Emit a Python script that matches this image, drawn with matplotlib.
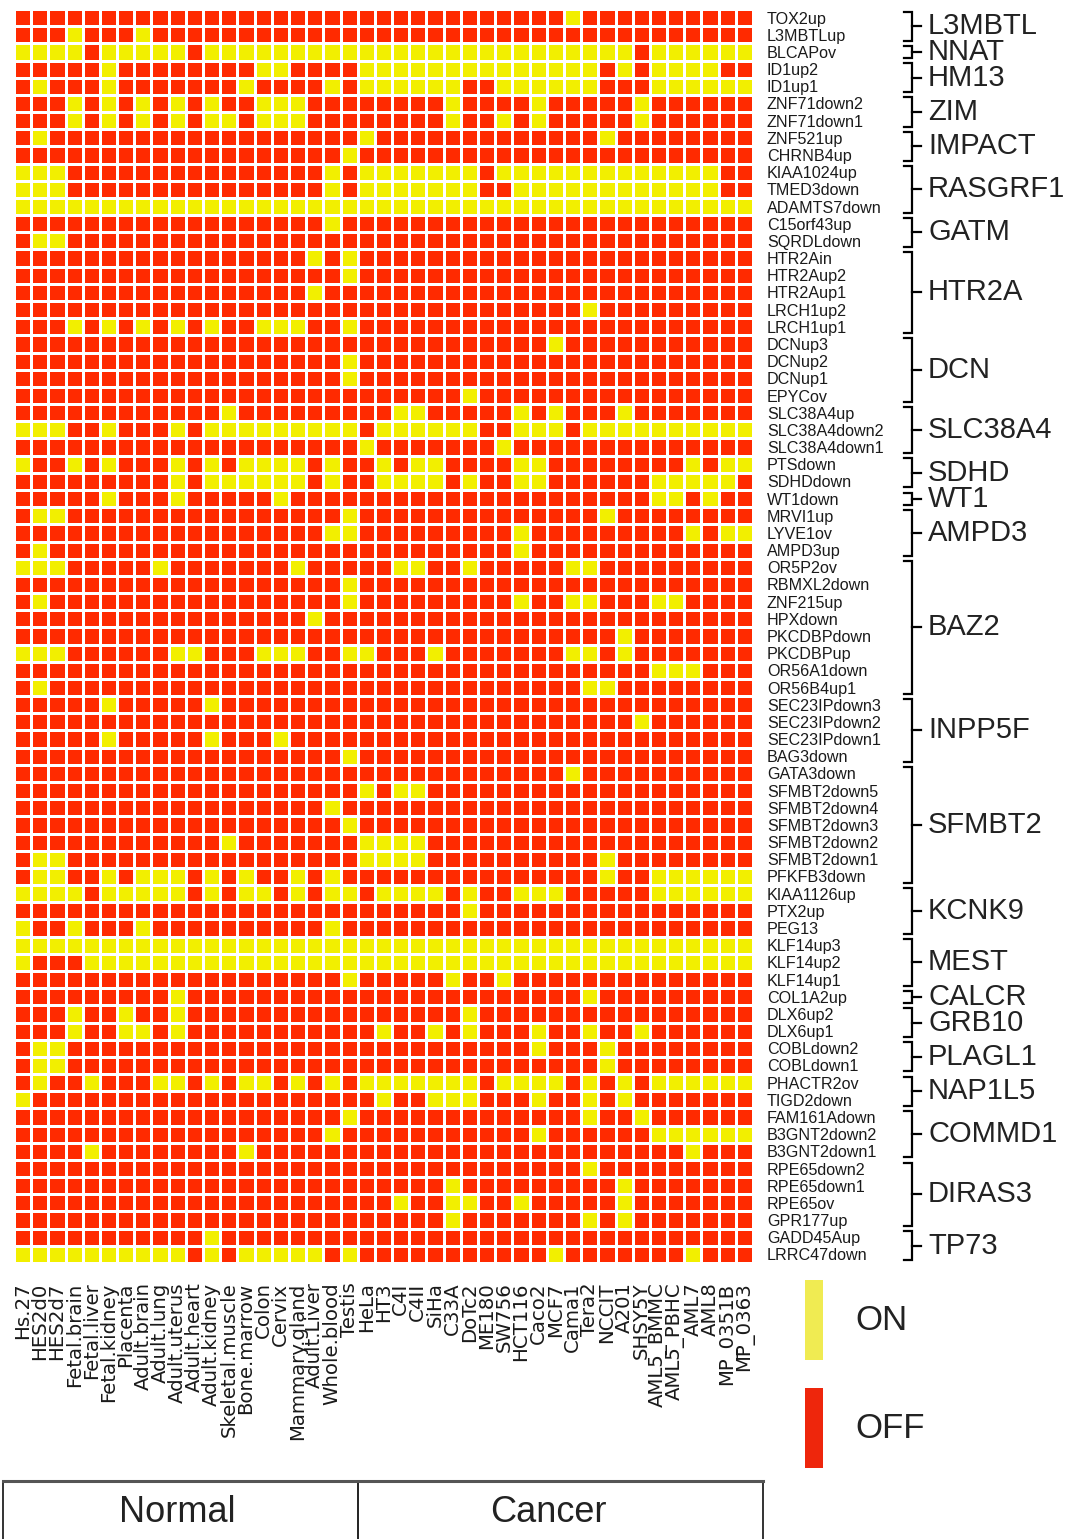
import numpy as np
import matplotlib
matplotlib.use("Agg")
import matplotlib.pyplot as plt
from matplotlib.colors import ListedColormap

# ---------------------------------------------------------------- data
samples_normal = ["Hs.27", "HES2d0", "HES2d7", "Fetal.brain", "Fetal.liver",
                  "Fetal.kidney", "Placenta", "Adult.brain", "Adult.lung",
                  "Adult.uterus", "Adult.heart", "Adult.kidney", "Skeletal.muscle",
                  "Bone.marrow", "Colon", "Cervix", "Mammary.gland", "Adult.Liver",
                  "Whole.blood", "Testis"]
samples_cancer = ["HeLa", "HT3", "C4I", "C4II", "SiHa", "C33A", "DoTc2", "ME180",
                  "SW756", "HCT116", "Caco2", "MCF7", "Cama1", "Tera2", "NCCIT",
                  "A201", "SHSY5Y", "AML5_BMMC", "AML5_PBHC", "AML7", "AML8",
                  "MP_0351B", "MP_0363"]

loci = ["TOX2up", "L3MBTLup", "BLCAPov", "ID1up2", "ID1up1", "ZNF71down2",
        "ZNF71down1", "ZNF521up", "CHRNB4up", "KIAA1024up", "TMED3down",
        "ADAMTS7down", "C15orf43up", "SQRDLdown", "HTR2Ain", "HTR2Aup2",
        "HTR2Aup1", "LRCH1up2", "LRCH1up1", "DCNup3", "DCNup2", "DCNup1",
        "EPYCov", "SLC38A4up", "SLC38A4down2", "SLC38A4down1", "PTSdown",
        "SDHDdown", "WT1down", "MRVI1up", "LYVE1ov", "AMPD3up", "OR5P2ov",
        "RBMXL2down", "ZNF215up", "HPXdown", "PKCDBPdown", "PKCDBPup",
        "OR56A1down", "OR56B4up1", "SEC23IPdown3", "SEC23IPdown2",
        "SEC23IPdown1", "BAG3down", "GATA3down", "SFMBT2down5", "SFMBT2down4",
        "SFMBT2down3", "SFMBT2down2", "SFMBT2down1", "PFKFB3down",
        "KIAA1126up", "PTX2up", "PEG13", "KLF14up3", "KLF14up2", "KLF14up1",
        "COL1A2up", "DLX6up2", "DLX6up1", "COBLdown2", "COBLdown1",
        "PHACTR2ov", "TIGD2down", "FAM161Adown", "B3GNT2down2", "B3GNT2down1",
        "RPE65down2", "RPE65down1", "RPE65ov", "GPR177up", "GADD45Aup",
        "LRRC47down"]

# sample indices (normal first, then cancer) in which each locus is ON
on_samples = [
    [32],
    [3, 7],
    [0, 1, 2, 3, 5, 6, 7, 8, 9, 11, 12, 13, 14, 15, 16, 17, 18, 19, 20, 21, 22,
     23, 24, 25, 26, 27, 28, 29, 30, 31, 32, 33, 34, 35, 37, 38, 39, 40, 41, 42],
    [5, 14, 15, 20, 21, 22, 23, 24, 25, 26, 27, 28, 29, 30, 31, 32, 33, 35, 37,
     38, 39, 40],
    [1, 5, 13, 18, 20, 21, 22, 23, 24, 25, 28, 29, 30, 31, 32, 33, 37, 38, 39,
     40, 41, 42],
    [3, 5, 7, 9, 11, 14, 15, 16, 25, 30, 36],
    [3, 5, 7, 9, 11, 12, 14, 15, 16, 25, 28, 30, 36],
    [1, 20, 34],
    [19],
    [0, 1, 2, 18, 20, 21, 22, 23, 24, 25, 26, 28, 29, 30, 31, 32, 33, 34, 35, 36,
     37, 38, 39, 40],
    [0, 1, 2, 18, 20, 21, 22, 23, 24, 25, 26, 29, 30, 31, 32, 33, 34, 35, 36, 37,
     38, 39, 40],
    [0, 1, 2, 3, 4, 5, 6, 7, 8, 9, 10, 11, 12, 13, 14, 15, 16, 17, 18, 19, 20,
     21, 22, 23, 24, 25, 26, 27, 28, 29, 30, 31, 32, 33, 34, 35, 36, 37, 38, 39,
     40, 41, 42],
    [18],
    [1, 2],
    [17, 19],
    [19],
    [17],
    [33],
    [3, 5, 7, 9, 11, 14, 15, 16, 19],
    [31],
    [19],
    [19],
    [26],
    [12, 22, 23, 29, 31, 35],
    [0, 1, 2, 5, 9, 11, 12, 13, 14, 15, 16, 17, 18, 19, 21, 22, 23, 24, 25, 26,
     29, 30, 31, 33, 34, 35, 36, 37, 38, 39, 40, 41, 42],
    [20, 28],
    [0, 3, 5, 9, 11, 13, 14, 15, 16, 18, 21, 23, 24, 29, 30, 39, 41, 42],
    [9, 11, 12, 13, 14, 15, 16, 18, 21, 22, 23, 24, 26, 29, 30, 37, 38, 39, 40,
     41],
    [5, 9, 15, 37, 38, 40],
    [1, 2, 19, 34],
    [18, 19, 29, 39, 41, 42],
    [1, 29],
    [0, 1, 2, 8, 16, 22, 23, 26, 32, 33],
    [19],
    [1, 19, 29, 32, 33, 37, 38],
    [17],
    [35],
    [0, 1, 2, 9, 10, 14, 15, 16, 19, 20, 24, 32, 33, 35],
    [37, 38, 39],
    [1, 33, 34],
    [5, 11],
    [36],
    [5, 11, 15],
    [19],
    [32],
    [20, 22, 23],
    [18],
    [19],
    [12, 20, 21, 22, 23],
    [1, 2, 20, 21, 22, 23, 34],
    [1, 2, 5, 7, 8, 9, 11, 13, 16, 18, 34, 37, 38, 39, 40, 41, 42],
    [0, 1, 2, 3, 5, 6, 7, 8, 9, 11, 13, 14, 16, 18, 19, 21, 22, 23, 24, 26, 29,
     30, 31, 37, 38, 39, 40, 41, 42],
    [26],
    [0, 3, 7, 18],
    [0, 1, 2, 3, 4, 5, 6, 7, 8, 9, 10, 11, 12, 13, 14, 15, 16, 17, 18, 19, 20,
     21, 22, 23, 24, 25, 26, 27, 28, 29, 30, 31, 32, 33, 34, 35, 36, 37, 38, 39,
     40, 41, 42],
    [0, 4, 5, 6, 7, 8, 9, 10, 11, 12, 13, 14, 15, 16, 17, 18, 19, 20, 21, 22,
     23, 24, 25, 26, 27, 28, 29, 30, 31, 32, 33, 34, 35, 36, 37, 38, 39, 40, 41,
     42],
    [19, 25, 28],
    [9, 33],
    [3, 6, 9, 26],
    [3, 6, 7, 9, 21, 24, 26, 30, 33, 36],
    [1, 2, 30, 34],
    [1, 2, 34],
    [1, 4, 8, 9, 11, 13, 14, 16, 18, 20, 21, 22, 23, 24, 25, 26, 28, 29, 30, 31,
     33, 35, 37, 38, 39, 40, 41, 42],
    [0, 21, 24, 25, 26, 30, 33, 35],
    [19, 33, 36],
    [18, 30, 37, 38, 39, 40, 41, 42],
    [4, 13, 39],
    [33],
    [25, 35],
    [22, 25, 26, 29, 35],
    [25, 33, 35],
    [11],
    [0, 1, 2, 3, 4, 5, 6, 7, 8, 9, 11, 13, 14, 15, 16, 17, 19, 31, 39],
]

# imprinted domains: (name, first locus, last locus)
domains = [("L3MBTL", "TOX2up", "L3MBTLup"),
           ("NNAT", "BLCAPov", "BLCAPov"),
           ("HM13", "ID1up2", "ID1up1"),
           ("ZIM", "ZNF71down2", "ZNF71down1"),
           ("IMPACT", "ZNF521up", "CHRNB4up"),
           ("RASGRF1", "KIAA1024up", "ADAMTS7down"),
           ("GATM", "C15orf43up", "SQRDLdown"),
           ("HTR2A", "HTR2Ain", "LRCH1up1"),
           ("DCN", "DCNup3", "EPYCov"),
           ("SLC38A4", "SLC38A4up", "SLC38A4down1"),
           ("SDHD", "PTSdown", "SDHDdown"),
           ("WT1", "WT1down", "WT1down"),
           ("AMPD3", "MRVI1up", "AMPD3up"),
           ("BAZ2", "OR5P2ov", "OR56B4up1"),
           ("INPP5F", "SEC23IPdown3", "BAG3down"),
           ("SFMBT2", "GATA3down", "PFKFB3down"),
           ("KCNK9", "KIAA1126up", "PEG13"),
           ("MEST", "KLF14up3", "KLF14up1"),
           ("CALCR", "COL1A2up", "COL1A2up"),
           ("GRB10", "DLX6up2", "DLX6up1"),
           ("PLAGL1", "COBLdown2", "COBLdown1"),
           ("NAP1L5", "PHACTR2ov", "TIGD2down"),
           ("COMMD1", "FAM161Adown", "B3GNT2down1"),
           ("DIRAS3", "RPE65down2", "GPR177up"),
           ("TP73", "GADD45Aup", "LRRC47down")]

state_labels = ["ON", "OFF"]

# ---------------------------------------------------------------- styling
OFF_CELL = "#FF2A00"
ON_CELL = "#F2EF00"
ON_KEY = "#F0EB52"
OFF_KEY = "#EE260C"
SANS = "Liberation Sans"
WIDE = "DejaVu Sans"
INK = "#1a1a1a"

W, H = 1071, 1539
fig = plt.figure(figsize=(W / 100, H / 100), dpi=100)


def px_box(x0, y0, x1, y1):
    return [x0 / W, 1 - y1 / H, (x1 - x0) / W, (y1 - y0) / H]


samples = samples_normal + samples_cancer
n_rows, n_cols = len(loci), len(samples)
status = np.zeros((n_rows, n_cols))
for r, cols in enumerate(on_samples):
    status[r, cols] = 1

# ---------------------------------------------------------------- heatmap
ax = fig.add_axes(px_box(14, 9, 753, 1263))
ax.pcolormesh(np.arange(n_cols + 1), np.arange(n_rows + 1), status,
              cmap=ListedColormap([OFF_CELL, ON_CELL]), vmin=0, vmax=1,
              edgecolors="white", linewidth=2.1)
ax.set_xlim(0, n_cols)
ax.set_ylim(n_rows, 0)
for sp in ax.spines.values():
    sp.set_visible(False)

ax.yaxis.tick_right()
ax.set_yticks(np.arange(n_rows) + 0.5)
ax.set_yticklabels(loci, fontsize=11.6, family=SANS, color=INK)
ax.tick_params(axis="y", length=0, pad=10)

ax.set_xticks(np.arange(n_cols) + 0.5)
ax.set_xticklabels(samples, rotation=90, fontsize=14.2, family=WIDE,
                   va="top", ha="center", color=INK)
ax.tick_params(axis="x", length=0, pad=14)

# ---------------------------------------------------------------- domain brackets
axb = fig.add_axes(px_box(895, 9, 1071, 1263), sharey=ax)
axb.set_xlim(895, 1071)
axb.axis("off")
row_of = {name: i for i, name in enumerate(loci)}
x_line, x_left, x_right, x_text = 912, 904, 921, 928
for name, first, last in domains:
    top = row_of[first] + 0.15
    bot = row_of[last] + 1 - 0.15
    mid = (top + bot) / 2
    axb.plot([x_left, x_line, x_line, x_left], [top, top, bot, bot],
             color="black", lw=1.6, solid_joinstyle="miter")
    axb.plot([x_line, x_right], [mid, mid], color="black", lw=1.6)
    axb.text(x_text, mid, name, fontsize=21, family=SANS,
             va="center", ha="left", color="#222222")

# ---------------------------------------------------------------- ON / OFF key
axk = fig.add_axes(px_box(780, 1270, 1071, 1480))
axk.set_xlim(780, 1071)
axk.set_ylim(1480, 1270)
axk.axis("off")
key_colors = [ON_KEY, OFF_KEY]
key_tops = [1280, 1388]
for lab, col, top in zip(state_labels, key_colors, key_tops):
    axk.fill_between([805, 823], top, top + 80, color=col, lw=0)
    axk.text(855, top + 40, lab, fontsize=25, family=SANS,
             va="center", ha="left", color="#222222")

# ---------------------------------------------------------------- group box
axg = fig.add_axes(px_box(3, 1481, 763, 1539 + 4))
col_w = (753 - 14) / n_cols
axg.set_xlim((3 - 14) / col_w, (763 - 14) / col_w)
axg.set_ylim(0, 1)
axg.set_xticks([])
axg.set_yticks([])
for side in ["left", "right", "top"]:
    axg.spines[side].set_color("#333333")
    axg.spines[side].set_linewidth(1.4)
axg.spines["top"].set_linewidth(2.2)
axg.spines["top"].set_color("#555555")
axg.spines["bottom"].set_visible(False)
n_norm = len(samples_normal)
axg.axvline(n_norm, color="#222222", lw=1.4)
x_lo, x_hi = axg.get_xlim()
axg.text((x_lo + n_norm) / 2 - 0.2, 0.5, "Normal", fontsize=26, family=SANS,
         ha="center", va="center", color="#222222")
axg.text((n_norm + x_hi) / 2 - 0.7, 0.5, "Cancer", fontsize=26, family=SANS,
         ha="center", va="center", color="#222222")

fig.savefig("out.png", dpi=100, facecolor="white")
